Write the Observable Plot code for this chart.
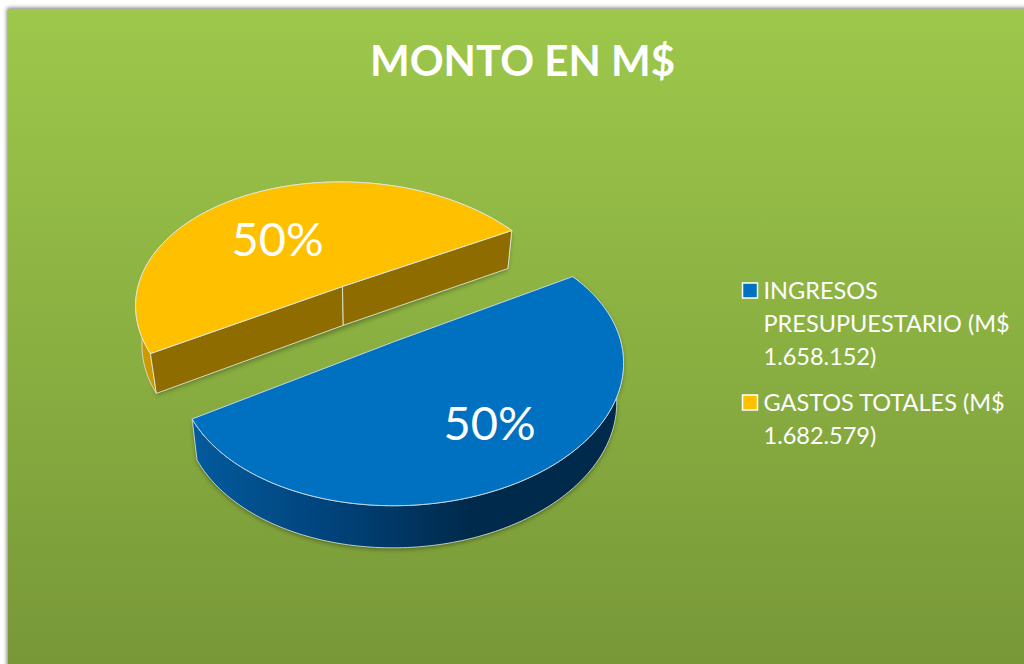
<!DOCTYPE html>
<html>
<head>
<meta charset="utf-8">
<script src="https://cdn.jsdelivr.net/npm/d3@7"></script>
<script src="https://cdn.jsdelivr.net/npm/@observablehq/plot@0.6"></script>
<style>
html,body{margin:0;padding:0;background:#fff;overflow:hidden}
svg{display:block}
</style>
</head>
<body>
<div id="chart"></div>
<script>
// ---- data
const categories = ["INGRESOS PRESUPUESTARIO", "GASTOS TOTALES"];
const values = [1658152, 1682579];
const legendLines = [
  ["INGRESOS", "PRESUPUESTARIO (M$", "1.658.152)"],
  ["GASTOS TOTALES (M$", "1.682.579)"]
];
const titleText = "MONTO EN M$";

// ---- palette
const topColors = ["#0070C0", "#FFC000"];
const edge = "#dfe8d8";
const font = "Lato, 'Open Sans', sans-serif";

// ---- layout of the tilted pie: each exploded slice has its own centre and
// projected axes; a and b are the perspective terms.
const frames = [
  {cx: 394, cy: 341, ex: 189, ey: -70.6, dx: 108, dy: 112, a: 0.07, b: -0.184},
  {cx: 342, cy: 286, ex: 179.5, ey: -61, dx: -110, dy: -109, a: 0.07, b: 0.184}
];
const project = (f, t) => {
  const w = 1 + f.a * Math.cos(t) + f.b * Math.sin(t);
  return {
    x: f.cx + (Math.cos(t) * f.ex + Math.sin(t) * f.dx) / w,
    y: f.cy + (Math.cos(t) * f.ey + Math.sin(t) * f.dy) / w
  };
};
const drop = (p) => ({
  x: p.x - 0.027 * (p.x - 370),
  y: p.y + 38 + 0.015 * (p.y - 230)
});

const total = d3.sum(values);
const arcs = d3.pie().sort(null)(values);
const slices = arcs.map((arc, i) => {
  const span = arc.endAngle - arc.startAngle;
  const t0 = Math.PI / 2 - span / 2;
  const f = frames[i];
  const rim = d3.range(0, 181).map((k) => project(f, t0 + (span * k) / 180));
  const centre = {x: f.cx, y: f.cy};
  return {
    name: categories[i],
    pct: Math.round((values[i] / total) * 100) + "%",
    color: topColors[i],
    rim,
    centre,
    top: [...rim, centre, rim[0]],
    wall: [...rim, ...rim.slice().reverse().map(drop), rim[0]]
  };
});

const [blue, yellow] = slices;
const poly = (pts, o) => Plot.line(pts, {x: "x", y: "y", curve: "linear", ...o});

// chord walls of the yellow slice, either side of the centre seam
const yA = yellow.rim[0], yB = yellow.rim[180], yC = yellow.centre;
const wallQuad = (p, q) => [p, q, drop(q), drop(p), p];

const defs = () => {
  const d = d3.create("svg:defs");
  const bg = d.append("linearGradient").attr("id", "bg").attr("x1", 0).attr("x2", 0).attr("y1", 0).attr("y2", 1);
  bg.append("stop").attr("offset", 0).attr("stop-color", "#9DC84B");
  bg.append("stop").attr("offset", 1).attr("stop-color", "#789838");
  const w = d.append("linearGradient").attr("id", "blueWall").attr("gradientUnits", "userSpaceOnUse")
    .attr("x1", 196).attr("x2", 470).attr("y1", 0).attr("y2", 0);
  w.append("stop").attr("offset", 0).attr("stop-color", "#035A9C");
  w.append("stop").attr("offset", 0.5).attr("stop-color", "#01427A");
  w.append("stop").attr("offset", 1).attr("stop-color", "#002A4C");
  return d.node();
};

const label = (text, x, y, o) => Plot.text([text], {
  x: () => x, y: () => y, text: (d) => d, fill: "#fff", fontFamily: font,
  lineAnchor: "bottom", ...o
});

const legendMarks = legendLines.flatMap((lines, i) => {
  const y0 = [298, 410][i];
  return [
    Plot.rect([categories[i]], {
      x1: () => 742.5, x2: () => 757.5, y1: () => y0 - 15, y2: () => y0,
      fill: topColors[i], stroke: "#fff", strokeWidth: 1.5
    }),
    ...lines.map((line, k) => label(line, 763, y0 + k * 33, {textAnchor: "start", fontSize: 23.5}))
  ];
});

const plot = Plot.plot({
  width: 1024, height: 664,
  margin: 0,
  x: {domain: [0, 1024], range: [0, 1024], axis: null},
  y: {domain: [0, 664], range: [0, 664], axis: null},
  style: {background: "transparent"},
  marks: [
    defs,
    Plot.rect([0], {x1: () => 7, x2: () => 1040, y1: () => 8, y2: () => 680, fill: "#777", imageFilter: "blur(2px)"}),
    Plot.rect([0], {x1: () => 8, x2: () => 1024, y1: () => 9, y2: () => 664, fill: "url(#bg)"}),

    // soft shadows
    poly(blue.wall, {fill: "#2c3a10", fillOpacity: 0.5, imageFilter: "blur(2px)", dy: 2}),
    poly(wallQuad(yB, yA), {fill: "#2c3a10", fillOpacity: 0.4, imageFilter: "blur(2px)", dy: 2}),

    // yellow slice
    poly(yellow.wall, {fill: "#CC9A00", stroke: edge, strokeWidth: 0.8}),
    poly(wallQuad(yB, yC), {fill: "#8F6C00", stroke: edge, strokeWidth: 0.9}),
    poly(wallQuad(yC, yA), {fill: "#8F6C00", stroke: edge, strokeWidth: 0.9}),
    poly(yellow.top, {fill: yellow.color, stroke: edge, strokeWidth: 1}),

    // blue slice
    poly(blue.wall, {fill: "url(#blueWall)", stroke: edge, strokeWidth: 0.8}),
    poly(blue.top, {fill: blue.color, stroke: "#c3d6e4", strokeWidth: 1}),

    // percentage labels
    label(blue.pct, 489, 439, {textAnchor: "middle", fontSize: 47}),
    label(yellow.pct, 277, 255, {textAnchor: "middle", fontSize: 47}),

    // title
    label(titleText, 522, 75, {textAnchor: "middle", fontSize: 42, fontWeight: 700}),

    ...legendMarks
  ]
});
document.getElementById("chart").append(plot);
</script>
</body>
</html>
